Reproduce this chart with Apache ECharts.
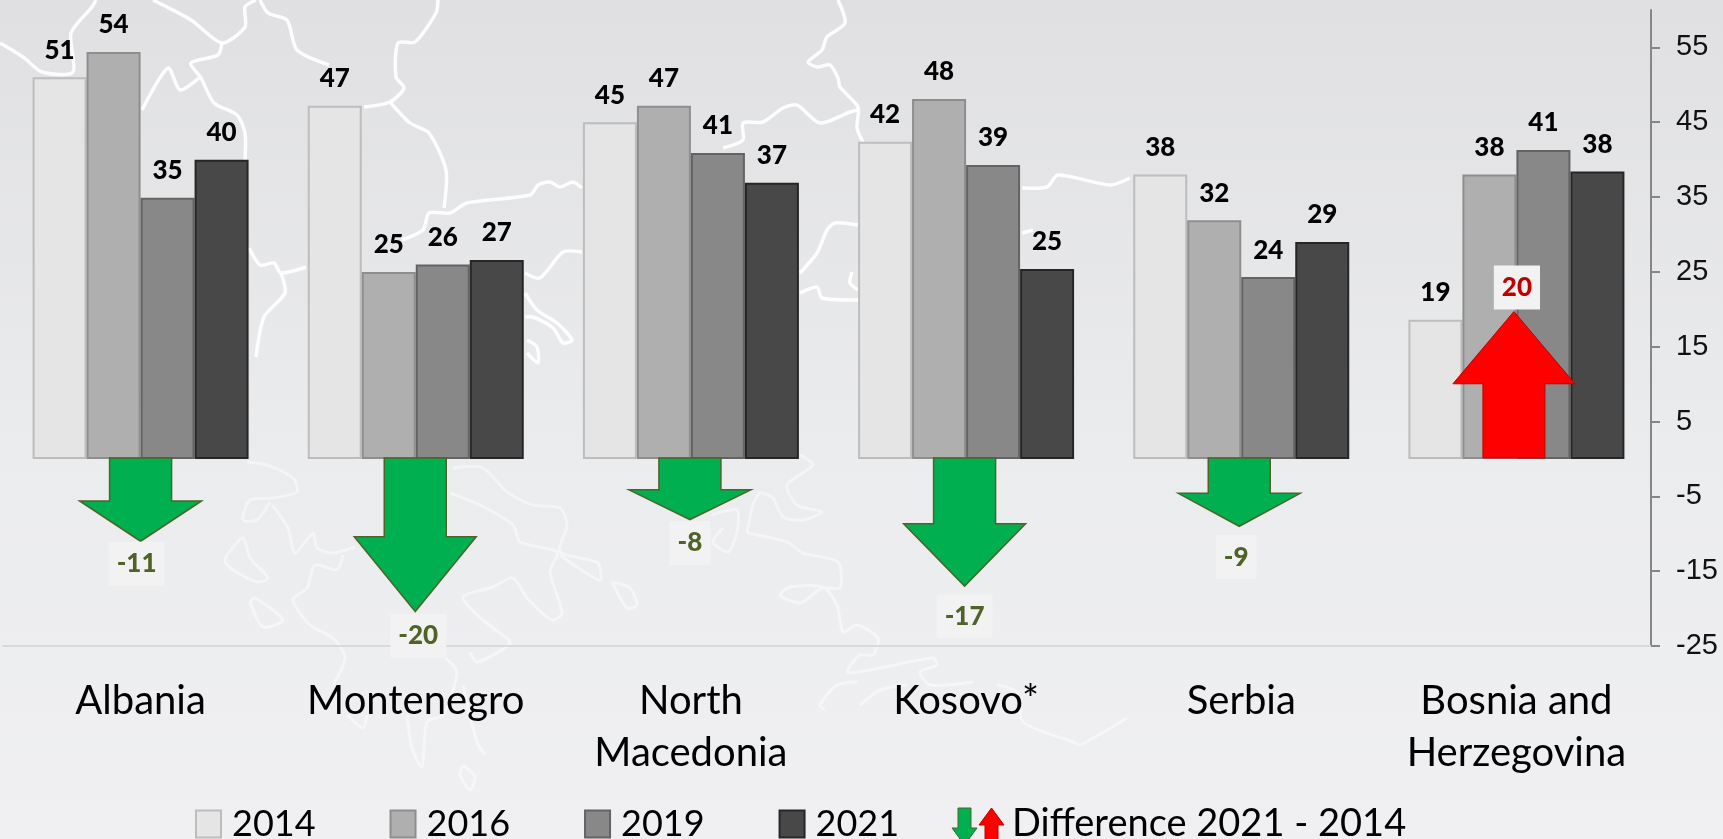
<!DOCTYPE html>
<html>
<head>
<meta charset="utf-8">
<title>Western Balkans</title>
<style>
  html, body { margin: 0; padding: 0; height: 100%; overflow: hidden; }
  #chart { width: 1723px; height: 839px; }
</style>
</head>
<body>
<div id="chart"></div>
<script src="https://cdn.jsdelivr.net/npm/echarts@6/dist/echarts.min.js"></script>
<script>
const countries = ['Albania', 'Montenegro', 'North\nMacedonia', 'Kosovo*', 'Serbia', 'Bosnia and\nHerzegovina'];
const values2014 = [51, 47.2, 45, 42.4, 38, 18.6];
const values2016 = [54.4, 25, 47.2, 48.1, 31.9, 38];
const values2019 = [34.9, 26, 40.9, 39.3, 24.3, 41.3];
const values2021 = [40, 26.6, 36.9, 25.4, 29, 38.4];
const differences = [-11, -20.4, -8.1, -17, -9, 19.7];
const yTicks = [-25, -15, -5, 5, 15, 25, 35, 45, 55];

const diffName = 'Difference 2021 - 2014';

// where each difference label sits relative to its arrow tip
const diffLabelOffsets = [[-4, 22.5], [3, 24.5], [0, 23.5], [0, 30], [-3, 31], [3, -24]];

// white map outline behind the chart (decoration only)
const upperMap = [
  [[0,43],[23,57],[42,72],[73,72],[71,33],[92,7],[96,0]],
  [[153,0],[191,20],[222,43],[245,27],[245,7],[256,0]],
  [[222,43],[218,55],[191,63],[201,78],[214,103],[237,115],[245,133],[245,160]],
  [[142,110],[168,68],[180,90],[199,78]],
  [[260,0],[268,13],[287,20],[297,50],[329,65]],
  [[438,0],[436,13],[415,42],[398,43],[396,77],[404,88],[390,102],[364,107]],
  [[390,102],[410,123],[429,133],[446,170],[444,208]],
  [[402,240],[423,230],[429,213],[450,213],[467,203],[530,195],[538,185],[550,182],[560,187],[573,182],[582,188]],
  [[249,248],[260,265],[274,263],[281,273],[306,267]],
  [[281,273],[285,293],[264,317],[256,357]],
  [[525,273],[540,278],[563,252],[582,252]],
  [[525,293],[537,310],[557,323],[572,340],[563,343],[553,328],[533,317],[525,317]],
  [[527,340],[537,347],[538,363],[527,353]],
  [[723,148],[743,140],[743,123],[763,122],[783,108],[797,105],[820,123],[850,112],[858,110]],
  [[838,0],[845,23],[827,37],[822,50],[808,62],[817,67],[830,65],[838,78],[840,87],[858,107],[857,128],[863,142]],
  [[800,273],[817,253],[827,230],[835,223],[858,225]],
  [[800,293],[817,287],[822,298],[858,300]],
  [[852,272],[850,283],[858,290]],
  [[1022,188],[1047,187],[1058,175],[1110,185],[1130,178]],
  [[1022,233],[1033,230]]
];
const lowerMap = [
  [[247,462],[267,465],[293,478],[297,492],[272,498],[250,500],[243,520],[257,520],[270,502]],
  [[272,505],[288,528],[295,553],[313,533],[317,548],[333,553],[355,547]],
  [[343,555],[337,570],[315,565],[307,588],[293,600],[310,625],[333,638],[345,658],[333,685]],
  [[227,555],[243,538],[250,558],[268,578],[257,582],[233,570],[225,562],[227,555]],
  [[250,602],[255,598],[283,620],[263,627],[250,602]],
  [[347,715],[363,728],[367,715]],
  [[407,715],[412,748],[422,767],[427,722],[443,715],[457,672],[445,658]],
  [[463,685],[477,742],[485,755]],
  [[463,765],[475,777],[470,790],[460,775],[463,765]],
  [[453,468],[483,468],[507,492],[533,505],[560,508],[567,525],[560,552],[598,563],[600,580],[577,567],[560,555]],
  [[450,493],[480,505],[513,525],[520,542],[557,552],[550,572],[562,613],[552,620],[527,598],[513,578],[493,587],[463,597],[477,615],[493,628],[510,643],[477,662],[470,652]],
  [[612,582],[630,588],[637,605],[627,608],[612,582]],
  [[800,455],[813,465],[787,485],[797,505],[822,512],[803,520],[783,517],[773,498],[760,493],[753,505],[747,533]],
  [[747,533],[787,542],[803,553],[838,562],[840,588],[822,588],[800,603],[780,595],[790,587],[823,587],[837,605],[843,632],[857,625],[878,638],[873,655],[860,655],[847,672],[870,670],[933,658],[937,665],[920,672],[930,685],[973,682]],
  [[857,682],[837,685],[820,705],[825,710]],
  [[860,705],[880,690],[907,685]],
  [[997,685],[1017,692],[1023,722],[1073,742],[1080,745],[1127,718]],
  [[712,515],[737,510],[737,532],[728,552],[713,542],[723,528]]
];

const mapLine = (points, width, opacity) => ({
  type: 'polyline',
  silent: true,
  z: -1,
  shape: { points: points, smooth: 0.25 },
  style: { stroke: '#fff', lineWidth: width, opacity: opacity, fill: null, lineJoin: 'round' }
});

const barSeries = (name, data, color, border) => ({
  name: name,
  type: 'bar',
  data: data,
  barWidth: 54,
  barGap: 0,
  itemStyle: { color: color, borderColor: border, borderWidth: 2 },
  label: {
    show: true,
    position: 'top',
    distance: 14,
    color: '#000',
    fontFamily: 'Lato',
    fontWeight: 900,
    fontSize: 26,
    formatter: p => Math.round(p.value)
  }
});

const renderArrow = (params, api) => {
  const i = api.value(0);
  const diff = api.value(1);
  const base = api.coord([i, 0]);
  const tip = api.coord([i, diff]);
  // arrows drift slightly left of the bar groups in the original
  const x = base[0] - i * 0.5;
  const neck = base[1] + (tip[1] - base[1]) * 0.51;
  const up = diff > 0;
  const offset = diffLabelOffsets[i];
  return {
    type: 'group',
    children: [
      {
        type: 'polygon',
        shape: {
          points: [
            [x - 31, base[1] - 1], [x + 31, base[1] - 1], [x + 31, neck], [x + 61, neck],
            [x, tip[1]], [x - 61, neck], [x - 31, neck]
          ]
        },
        style: {
          fill: up ? '#ff0000' : '#00b050',
          stroke: up ? '#c00000' : '#4f6228',
          lineWidth: up ? 1 : 1.5
        }
      },
      {
        type: 'text',
        style: {
          text: String(Math.round(diff)),
          x: x + offset[0],
          y: tip[1] + offset[1],
          align: 'center',
          verticalAlign: 'middle',
          fill: up ? '#c00000' : '#4f6228',
          font: '900 26px Lato',
          backgroundColor: '#f2f2f3',
          padding: [11, 8, 7, 8]
        }
      }
    ]
  };
};

const chart = echarts.init(document.getElementById('chart'), null, { renderer: 'canvas' });

chart.setOption({
  animation: false,
  backgroundColor: {
    type: 'linear', x: 0, y: 0, x2: 0, y2: 1,
    colorStops: [
      { offset: 0, color: '#e0e0e2' },
      { offset: 0.55, color: '#ebecee' },
      { offset: 1, color: '#f0f0f2' }
    ]
  },
  graphic: [
    ...upperMap.map(p => mapLine(p, 3.5, 0.9)),
    ...lowerMap.map(p => mapLine(p, 3, 0.45)),
    // legend arrows
    {
      type: 'polygon', silent: true,
      shape: { points: [[958, 808], [971, 808], [971, 828], [977, 828], [964.5, 845], [952, 828], [958, 828]] },
      style: { fill: '#00b050', stroke: '#4f6228', lineWidth: 1 }
    },
    {
      type: 'polygon', silent: true,
      shape: { points: [[991.5, 808], [1004, 825], [998, 825], [998, 845], [985, 845], [985, 825], [979, 825]] },
      style: { fill: '#ff0000', stroke: '#c00000', lineWidth: 1 }
    }
  ],
  grid: { left: 3, right: 69, top: 10, bottom: 193 },
  legend: [
    {
      left: 195,
      top: 806,
      padding: 0,
      selectedMode: false,
      icon: 'rect',
      itemWidth: 25,
      itemHeight: 27,
      itemGap: 74,
      data: ['2014', '2016', '2019', '2021'],
      textStyle: { color: '#000', fontFamily: 'Lato', fontSize: 36, padding: [0, 0, 0, 6] }
    },
    {
      left: 952,
      top: 805,
      padding: 0,
      selectedMode: false,
      itemWidth: 52,
      itemHeight: 27,
      data: [{ name: diffName, icon: 'rect', itemStyle: { color: 'transparent', borderWidth: 0 } }],
      textStyle: { color: '#000', fontFamily: 'Lato', fontSize: 38, padding: [0, 0, 0, 3] }
    }
  ],
  xAxis: {
    type: 'category',
    data: countries,
    position: 'bottom',
    axisLine: { onZero: false, lineStyle: { color: '#d9d9d9', width: 2 } },
    axisTick: { show: false },
    axisLabel: {
      interval: 0,
      margin: 29,
      color: '#000',
      fontFamily: 'Lato',
      fontSize: 40,
      lineHeight: 52
    }
  },
  yAxis: {
    type: 'value',
    position: 'right',
    offset: -3,
    min: -25,
    max: 60,
    interval: 5,
    splitLine: { show: false },
    axisLine: { show: true, lineStyle: { color: '#868686', width: 2 } },
    axisTick: { show: true, length: 9, customValues: yTicks, lineStyle: { color: '#868686', width: 2 } },
    axisLabel: {
      margin: 25,
      customValues: yTicks,
      color: '#111',
      fontFamily: 'Liberation Sans',
      fontSize: 29
    }
  },
  series: [
    barSeries('2014', values2014, '#e5e5e5', '#bdbdbd'),
    barSeries('2016', values2016, '#afafaf', '#8e8e8e'),
    barSeries('2019', values2019, '#888888', '#636363'),
    barSeries('2021', values2021, '#484848', '#262626'),
    {
      name: diffName,
      type: 'custom',
      z: 5,
      renderItem: renderArrow,
      encode: { x: 0, y: 1 },
      data: differences.map((d, i) => [i, d])
    }
  ]
});

window.addEventListener('resize', () => chart.resize());
</script>
</body>
</html>
